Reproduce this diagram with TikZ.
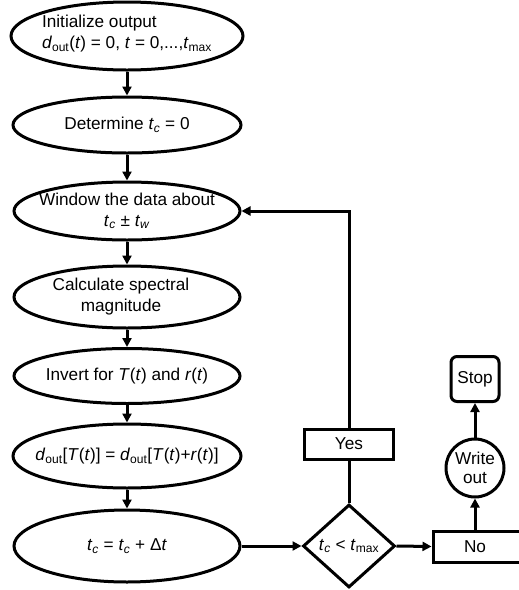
\documentclass[tikz,border=0pt]{standalone}
\usepackage{fontspec}
\setmainfont{Liberation Sans}
\usetikzlibrary{shapes.geometric,arrows.meta}
\newcommand\myD{\textit{d}\textsubscript{out}}
\newcommand\myTc{\textit{t}\textsubscript{\textit{c}}}
\newcommand\myTw{\textit{t}\textsubscript{\textit{w}}}
\newcommand\myTmax{\textit{t}\textsubscript{max}}
\begin{document}
\begin{tikzpicture}[x=1pt,y=-1pt,line width=3pt,
  font=\fontsize{17.2}{21}\selectfont,
  ell/.style={draw,ellipse,inner sep=0pt},
  lbl/.style={align=center,inner sep=0pt},
  box/.style={draw,rectangle,inner sep=0pt},
  arr/.style={-{Triangle[length=9pt,width=9pt]}}]
\useasboundingbox (0,0) rectangle (519,590);
% left column
\node[ell,minimum width=232pt,minimum height=68pt] (e1) at (127,36) {};
\node[lbl,align=left] (t1) at ([yshift=2pt]e1.center) {Initialize output\\\myD(\textit{t}) = 0, \textit{t} = 0,...,\myTmax};
\node[ell,minimum width=228pt,minimum height=56pt] (e2) at (127,125) {};
\node[lbl] (t2) at (e2) {Determine \myTc\ = 0};
\node[ell,minimum width=226pt,minimum height=58pt] (e3) at (127,211) {};
\node[lbl] (t3) at (e3) {Window the data about\\\myTc\ ± \myTw};
\node[ell,minimum width=226pt,minimum height=62pt] (e4) at (127,297) {};
\node[lbl] (t4) at ([xshift=-6pt]e4.center) {Calculate spectral\\magnitude};
\node[ell,minimum width=226pt,minimum height=55pt] (e5) at (127,376) {};
\node[lbl] (t5) at (e5) {Invert for \textit{T}(\textit{t}) and \textit{r}(\textit{t})};
\node[ell,minimum width=228pt,minimum height=64pt] (e6) at (127,456) {};
\node[lbl] (t6) at (e6) {\myD[\textit{T}(\textit{t})] = \myD[\textit{T}(\textit{t})+\textit{r}(\textit{t})]};
\node[ell,minimum width=226pt,minimum height=72pt] (e7) at (127,546) {};
\node[lbl] (t7) at (e7) {\myTc\ = \myTc\ + Δ\textit{t}};
% right part
\node[draw,diamond,inner sep=0pt,minimum width=92pt,minimum height=83pt] (dia) at (349,546) {\myTc\ < \myTmax};
\node[box,minimum width=89pt,minimum height=30pt] (yes) at (349,444) {Yes};
\node[box,minimum width=89pt,minimum height=31pt] (no) at (477.5,546.5) {\hspace*{-5pt}No};
\node[draw,circle,inner sep=0pt,minimum size=58pt,align=center,font=\fontsize{17.2}{19}\selectfont] (wo) at (475,468) {Write\\out};
\node[box,rounded corners=6pt,minimum width=48pt,minimum height=45pt] (stop) at (475,379) {Stop};
% connectors
\draw[arr] (e1.south) -- (e2.north);
\draw[arr] (e2.south) -- (e3.north);
\draw[arr] (e3.south) -- (e4.north);
\draw[arr] (e4.south) -- (e5.north);
\draw[arr] (e5.south) -- (e6.north);
\draw[arr] (e6.south) -- (e7.north);
\draw[arr] (e7.east) -- (dia.west);
\draw (dia.north) -- (yes.south);
\draw[arr] (yes.north) |- (e3.east);
\draw[arr] (dia.east) -- (no.west);
\draw[arr] (wo.south |- no.north) -- (wo.south);
\draw[arr] (wo.north) -- (stop.south);
\end{tikzpicture}
\end{document}
